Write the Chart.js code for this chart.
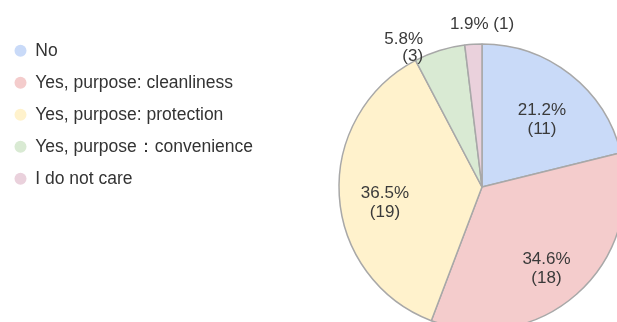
<!DOCTYPE html>
<html lang="en">
<head>
<meta charset="UTF-8">
<title>Pie chart</title>
<style>
  html, body { margin: 0; padding: 0; overflow: hidden; background: #fff; }
  #wrap { position: relative; width: 800px; height: 374px; }
</style>
</head>
<body>
<div id="wrap"><canvas id="myChart"></canvas></div>

<script src="https://cdn.jsdelivr.net/npm/chart.js"></script>
<script>
var labels = ["No", "Yes, purpose: cleanliness", "Yes, purpose: protection", "Yes, purpose\uFF1Aconvenience", "I do not care"];
var counts = [11, 18, 19, 3, 1];
var colors = ["#c9daf8", "#f4cccc", "#fff2cc", "#d9ead3", "#ead1dc"];

var fontFamily = '"Liberation Sans", Arial, sans-serif';
var pieCenterX = 482;

// percent + count labels, placed from the arc elements
var sliceLabels = {
  id: 'sliceLabels',
  afterDatasetsDraw: function (chart) {
    var ctx = chart.ctx;
    var total = counts.reduce(function (a, b) { return a + b; }, 0);
    var arcs = chart.getDatasetMeta(0).data;
    ctx.save();
    ctx.font = '17px ' + fontFamily;
    ctx.fillStyle = '#3a3a3a';
    arcs.forEach(function (arc, i) {
      var p = arc.getProps(['x', 'y', 'startAngle', 'endAngle', 'outerRadius'], true);
      var mid = (p.startAngle + p.endAngle) / 2;
      var share = counts[i] / total;
      var pct = (share * 100).toFixed(1) + '%';
      var cnt = '(' + counts[i] + ')';
      var x, y, r;
      if (share >= 0.1) {
        r = p.outerRadius * 0.68;
        x = p.x + Math.cos(mid) * r;
        y = p.y + Math.sin(mid) * r;
        ctx.textAlign = 'center';
        ctx.textBaseline = 'middle';
        ctx.fillText(pct, x, y);
        ctx.fillText(cnt, x, y + 19);
      } else {
        r = p.outerRadius * 1.08;
        x = p.x + Math.cos(mid) * r;
        y = p.y + Math.sin(mid) * r;
        if (x < p.x - 20) {
          ctx.textAlign = 'right';
          ctx.textBaseline = 'middle';
          ctx.fillText(pct, x - 13, y);
          ctx.fillText(cnt, x - 13, y + 17);
        } else {
          ctx.textAlign = 'center';
          ctx.textBaseline = 'bottom';
          ctx.fillText(pct + ' ' + cnt, p.x + Math.cos(p.endAngle) * r, y);
        }
      }
    });
    ctx.restore();
  }
};

var ctx = document.getElementById("myChart").getContext("2d");
var myPieChart = new Chart(ctx, {
  type: 'pie',
  data: {
    labels: labels,
    datasets: [{
      data: counts,
      backgroundColor: colors,
      borderColor: '#a8a8a8',
      borderWidth: 1.5
    }]
  },
  options: {
    responsive: true,
    maintainAspectRatio: false,
    animation: false,
    radius: 143,
    layout: { padding: { left: 0, right: 0, top: 0, bottom: 0 } },
    plugins: {
      tooltip: { enabled: false },
      legend: {
        position: 'left',
        align: 'start',
        title: { display: true, text: ' ', font: { size: 10 }, padding: { top: 15.5, bottom: 0 } },
        labels: {
          font: { family: fontFamily, size: 17.5 },
          color: '#333333',
          padding: 14.5,
          boxWidth: 12,
          boxHeight: 12,
          generateLabels: function () {
            return labels.map(function (l, i) {
              return {
                text: l,
                fillStyle: colors[i],
                strokeStyle: colors[i],
                lineWidth: 0,
                borderRadius: 6,
                fontColor: '#333333',
                hidden: false,
                index: i
              };
            });
          }
        }
      }
    }
  },
  plugins: [sliceLabels]
});

// shift the pie so its centre lands where it is in the original
var area = myPieChart.chartArea;
myPieChart.options.layout.padding.right = area.right - (2 * pieCenterX - area.left);
myPieChart.update();
</script>
</body>
</html>
